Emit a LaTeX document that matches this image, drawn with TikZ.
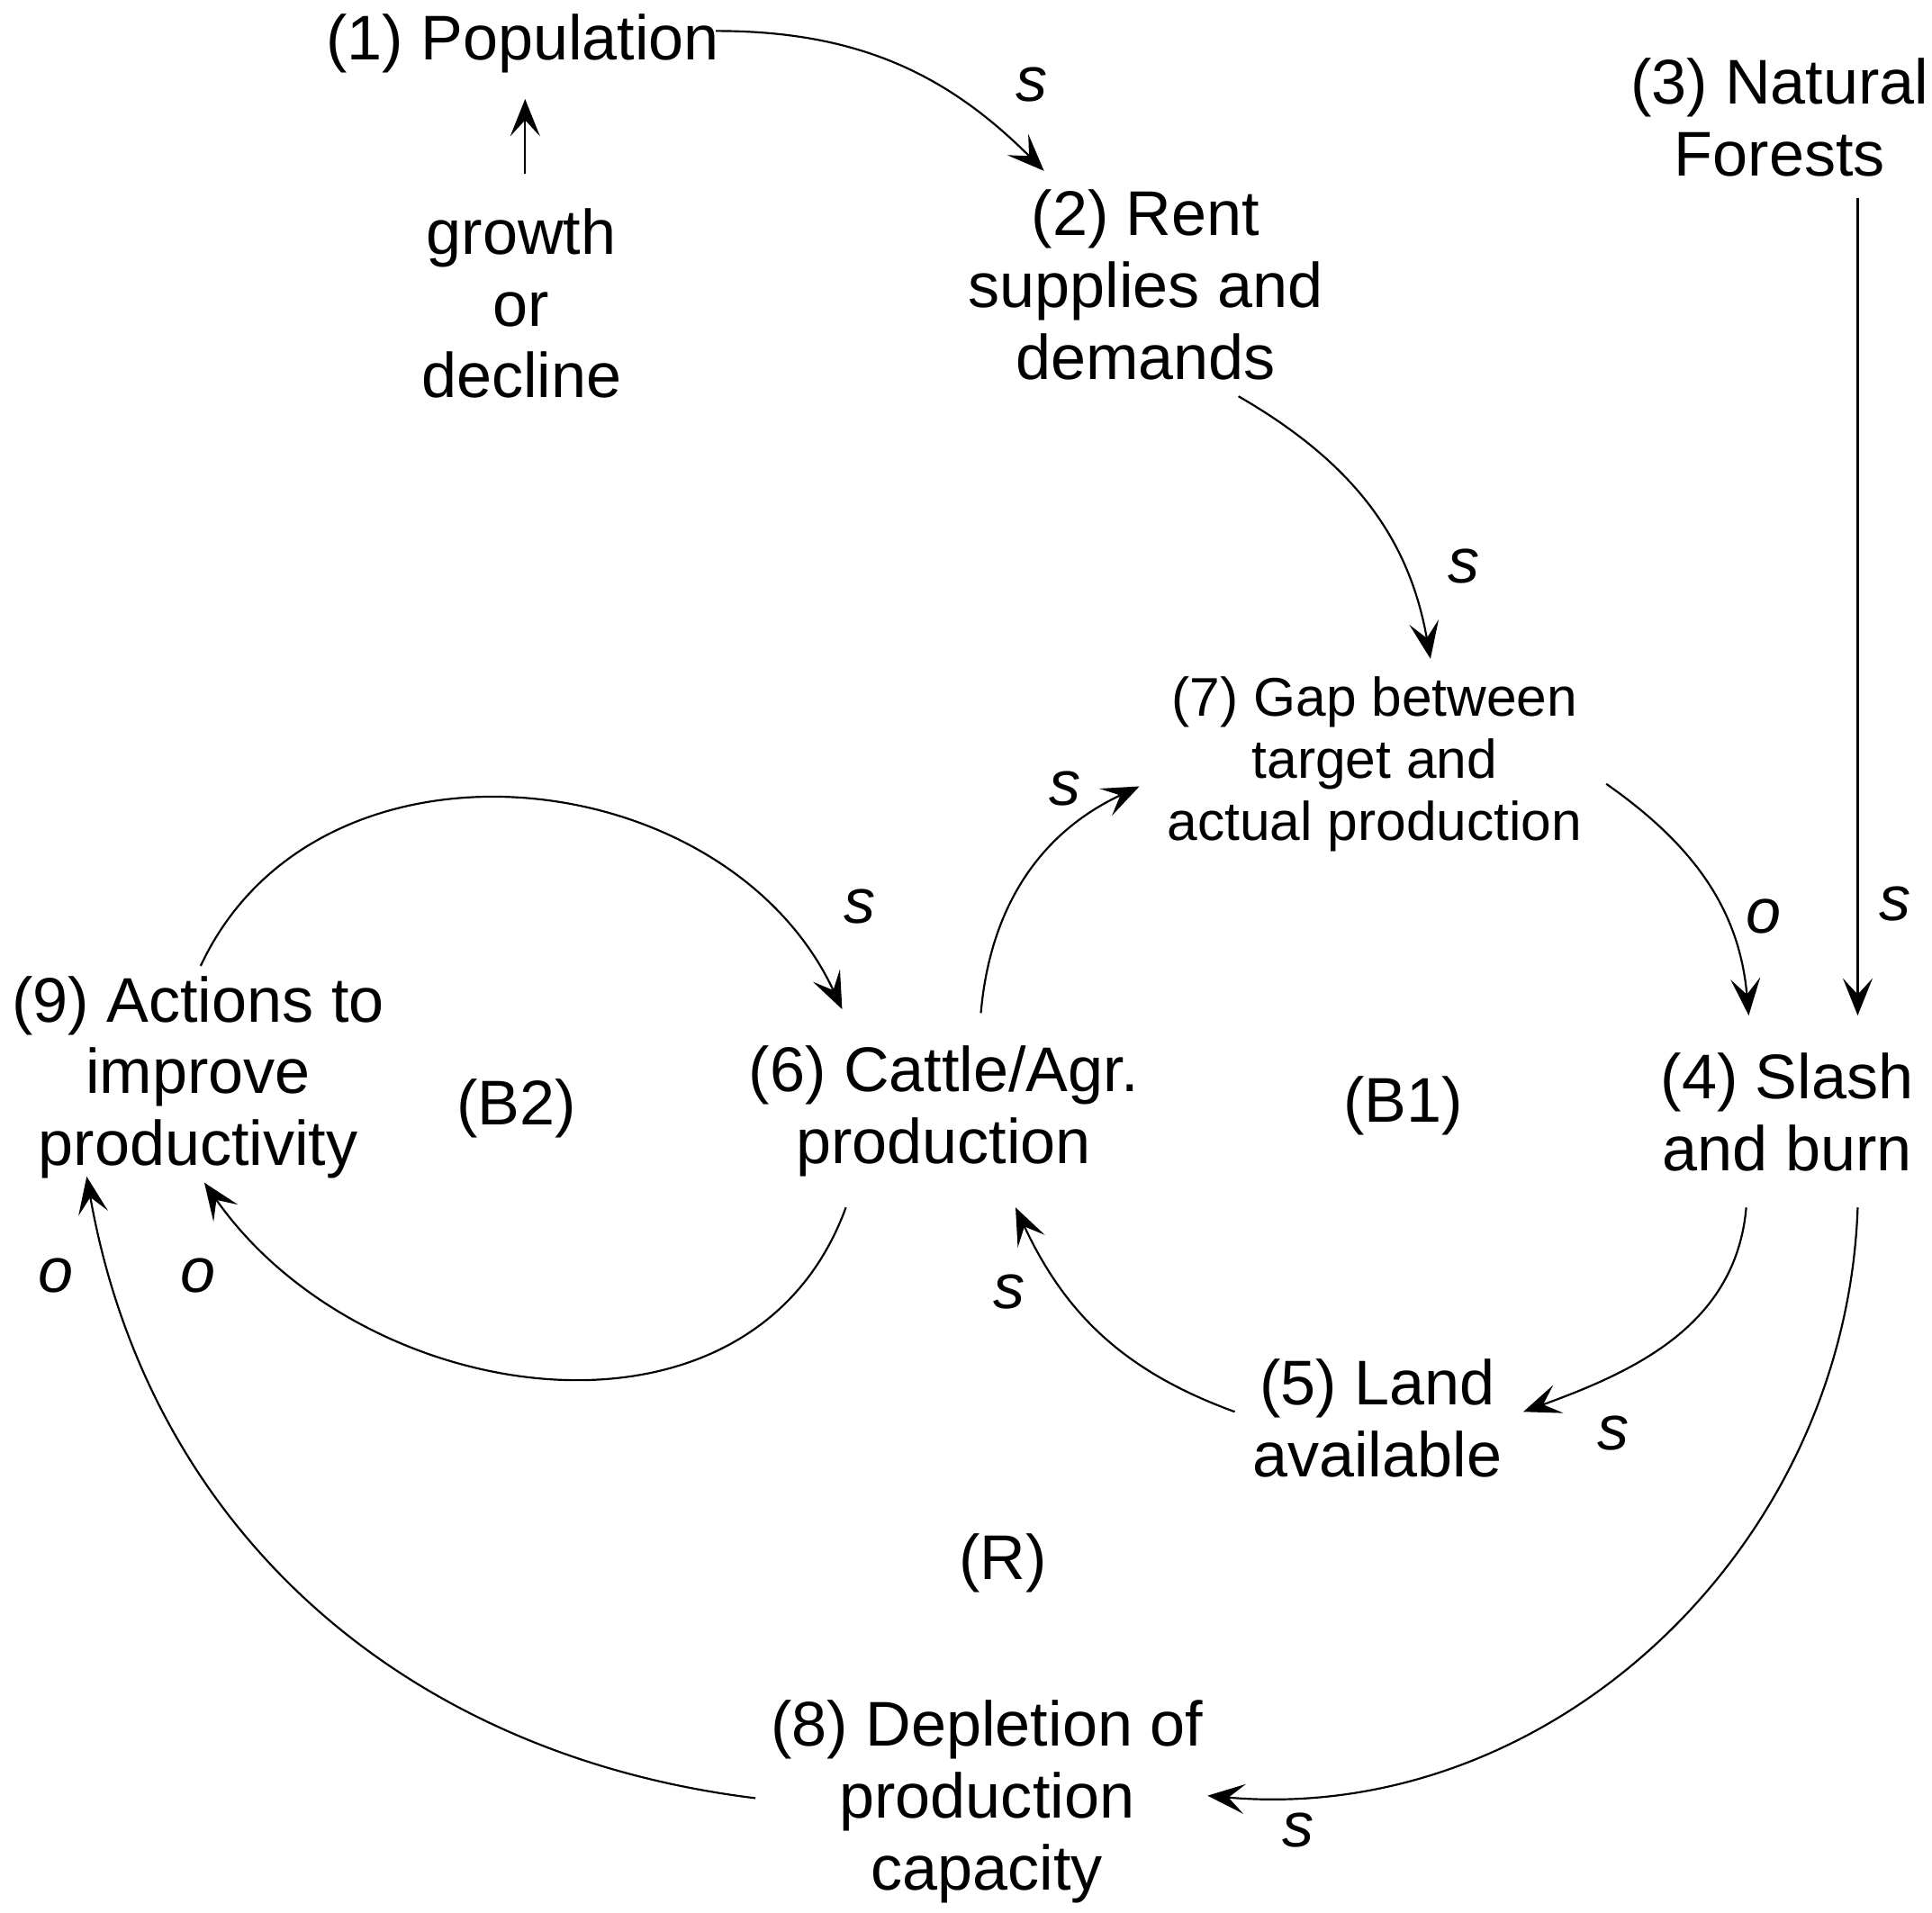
\documentclass[tikz,border=0pt]{standalone}
\usepackage{fontspec}
\setmainfont{Liberation Sans}
\usetikzlibrary{arrows.meta}
\begin{document}
\begin{tikzpicture}[x=0.01cm,y=0.01cm,
  txt/.style={align=center,font=\fontsize{14.5}{16.5}\selectfont},
  small/.style={align=center,font=\fontsize{12.5}{14.3}\selectfont},
  lab/.style={font=\fontsize{14.5}{16}\selectfont\itshape},
  arr/.style={line width=0.45pt,-{Stealth[length=3mm,width=2.4mm,inset=1.3mm]}}]
\useasboundingbox (0,0) rectangle (1560,1544);
\node[txt] (n1) at (422,1509) {(1) Population};
\node[txt] (gr) at (421,1299) {growth\\or\\decline};
\node[txt] (n2) at (925,1314) {(2) Rent\\supplies and\\demands};
\node[txt] (n3) at (1437,1449) {(3) Natural\\Forests};
\node[small] (n7) at (1110,927) {(7) Gap between\\target and\\actual production};
\node[txt] (n9) at (160,674) {(9) Actions to\\improve\\productivity};
\node[txt] (b2) at (417,649) {(B2)};
\node[txt] (n6) at (762,647) {(6) Cattle/Agr.\\production};
\node[txt] (b1) at (1133,651) {(B1)};
\node[txt] (n4) at (1443,646) {(4) Slash\\and burn};
\node[txt] (n5) at (1112,399) {(5) Land\\available};
\node[txt] (r) at (810,282) {(R)};
\node[txt] (n8) at (797,89) {(8) Depletion of\\production\\capacity};

\coordinate (a1) at (424,1404); \coordinate (a2) at (424,1464);
\coordinate (b1s) at (578,1519); \coordinate (b1e) at (843,1406);
\coordinate (c1) at (1000,1224); \coordinate (c2) at (1155,1012);
\coordinate (d1) at (1500,1384); \coordinate (d2) at (1500,724);
\coordinate (e1) at (1297,911); \coordinate (e2) at (1412,724);
\coordinate (f1) at (1410,569); \coordinate (f2) at (1230,404);
\coordinate (g1) at (997,404); \coordinate (g2) at (820,569);
\coordinate (h1) at (792,726); \coordinate (h2) at (920,909);
\coordinate (i1) at (162,764); \coordinate (i2) at (680,729);
\coordinate (j1) at (683,569); \coordinate (j2) at (165,589);
\coordinate (k1) at (1500,569); \coordinate (k2) at (975,94);
\coordinate (l1) at (610,92); \coordinate (l2) at (70,594);

\draw[arr] (a1) -- (a2);
\draw[arr] (b1s) to[out=0,in=135] (b1e);
\draw[arr] (c1) to[out=-30,in=100] (c2);
\draw[arr] (d1) -- (d2);
\draw[arr] (e1) to[out=-35,in=95] (e2);
\draw[arr] (f1) to[out=-95,in=20] (f2);
\draw[arr] (g1) to[out=160,in=-65] (g2);
\draw[arr] (h1) to[out=85,in=205] (h2);
\draw[arr] (i1) to[out=65,in=115,looseness=1.1] (i2);
\draw[arr] (j1) to[out=-110,in=-55,looseness=1.1] (j2);
\draw[arr] (k1) to[out=-92,in=-5] (k2);
\draw[arr] (l1) to[out=173,in=-80] (l2);

\node[lab] at (833,1476) {s};
\node[lab] at (1182,1087) {s};
\node[lab] at (1530,814) {s};
\node[lab] at (1424,804) {o};
\node[lab] at (1303,387) {s};
\node[lab] at (815,501) {s};
\node[lab] at (860,907) {s};
\node[lab] at (694,812) {s};
\node[lab] at (160,514) {o};
\node[lab] at (1048,66) {s};
\node[lab] at (45,514) {o};
\end{tikzpicture}
\end{document}
